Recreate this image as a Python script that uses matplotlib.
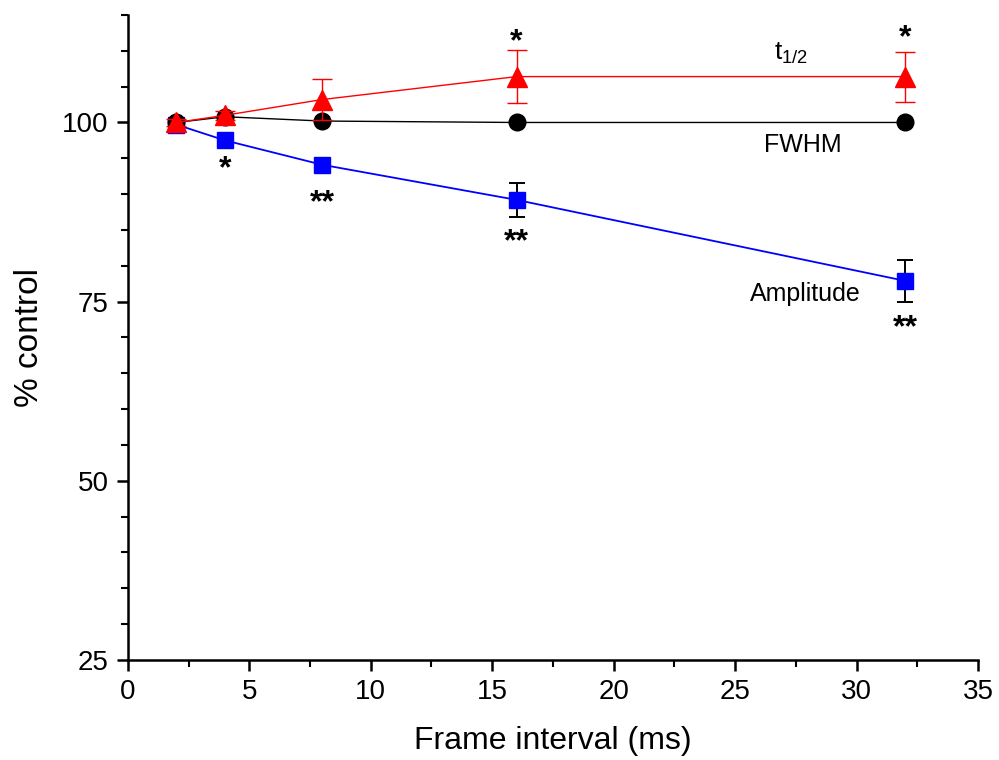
import matplotlib.pyplot as plt
from matplotlib.ticker import MultipleLocator

plt.rcParams['font.family'] = ['Liberation Sans', 'DejaVu Sans']

# data
frame_interval = [2, 4, 8, 16, 32]

amplitude = [99.7, 97.5, 94.1, 89.2, 77.9]
amplitude_err = [0.5, 0.7, 1.0, 2.4, 2.9]

fwhm = [100.0, 100.8, 100.2, 100.0, 100.0]
fwhm_err = [0.4, 0.5, 0.5, 0.3, 0.3]

t_half = [100.0, 101.0, 103.2, 106.4, 106.4]
t_half_err = [0.5, 0.6, 2.8, 3.7, 3.5]

# significance marks (x, y, text)
stars_x = [4, 8, 16, 32, 16, 32]
stars_y = [93.5, 88.7, 83.3, 71.3, 111.2, 111.8]
stars_txt = ['*', '**', '**', '**', '*', '*']

fig = plt.figure(figsize=(9.99, 7.6), dpi=100)
ax = fig.add_axes([0.128, 0.1316, 0.851, 0.8487])

ax.errorbar(frame_interval, amplitude, yerr=amplitude_err, color='#0000ff', ecolor='black',
            marker='s', markersize=12, mec='#0000ff', linewidth=1.3, elinewidth=1.4,
            capsize=6, capthick=1.4, zorder=3)
ax.errorbar(frame_interval, fwhm, yerr=fwhm_err, color='black', ecolor='black',
            marker='o', markersize=12, mec='black', linewidth=1.0, elinewidth=1.2,
            capsize=5, capthick=1.2, zorder=4)
ax.errorbar(frame_interval, t_half, yerr=t_half_err, color='#ff0000', ecolor='#ff0000',
            marker='^', markersize=15, mec='#ff0000', linewidth=1.0, elinewidth=1.0,
            capsize=7, capthick=1.0, zorder=5)

for x, y, s in zip(stars_x, stars_y, stars_txt):
    ax.text(x, y, s, ha='center', va='center', fontsize=23, fontweight='bold')

ax.text(27.3, 109.6, r'$\mathregular{t_{1/2}}$', ha='center', va='center', fontsize=19)
ax.text(27.8, 96.9, 'FWHM', ha='center', va='center', fontsize=18)
ax.text(27.9, 76.1, 'Amplitude', ha='center', va='center', fontsize=18)

ax.set_xlim(0, 35)
ax.set_ylim(25, 115)
ax.xaxis.set_major_locator(MultipleLocator(5))
ax.xaxis.set_minor_locator(MultipleLocator(2.5))
ax.yaxis.set_major_locator(MultipleLocator(25))
ax.yaxis.set_minor_locator(MultipleLocator(5))

for side in ['top', 'right']:
    ax.spines[side].set_visible(False)
for side in ['left', 'bottom']:
    ax.spines[side].set_linewidth(1.8)

ax.tick_params(which='major', direction='out', length=8, width=1.8, labelsize=20, pad=6)
ax.tick_params(which='minor', direction='out', length=5, width=1.5)

ax.set_xlabel('Frame interval (ms)', fontsize=23, labelpad=15)
ax.set_ylabel('% control', fontsize=24, labelpad=12)

plt.savefig('out.png', dpi=100)
